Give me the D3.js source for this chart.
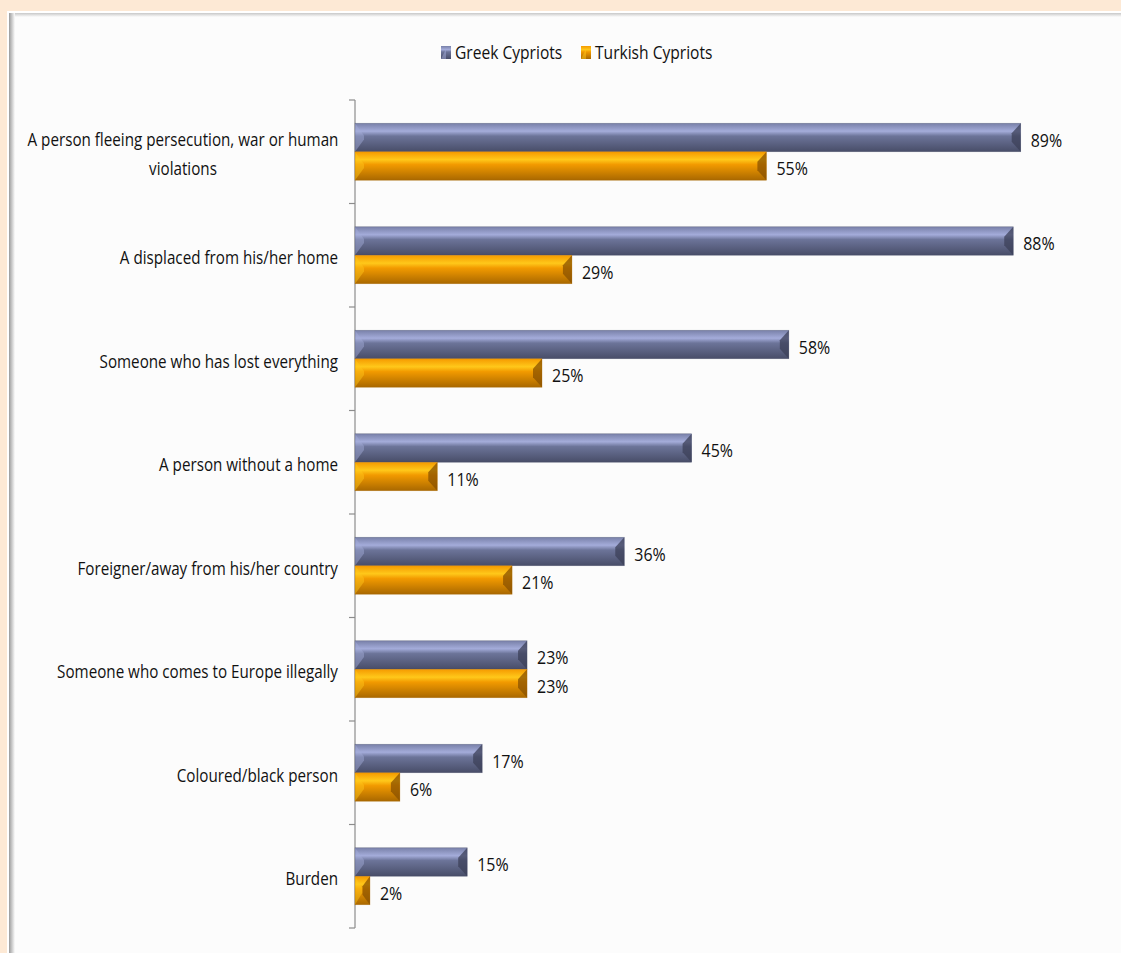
<!DOCTYPE html>
<html><head><meta charset="utf-8">
<script src="https://cdn.jsdelivr.net/npm/d3@7"></script>
<style>
html,body{margin:0;padding:0;background:#fde9d5;}
svg{display:block;}
text{font-family:"Open Sans",sans-serif;fill:#111;}
</style></head><body>
<svg id="c" width="1121" height="953"></svg>
<script>
const categories = [
  ["A person fleeing persecution, war or human","violations"],
  ["A displaced from his/her home"],
  ["Someone who has lost everything"],
  ["A person without a home"],
  ["Foreigner/away from his/her country"],
  ["Someone who comes to Europe illegally"],
  ["Coloured/black person"],
  ["Burden"]
];
const seriesNames = ["Greek Cypriots","Turkish Cypriots"];
const greek = [89,88,58,45,36,23,17,15];
const turkish = [55,29,25,11,21,23,6,2];

const svg = d3.select("#c");
const W = 1121, H = 953;
const defs = svg.append("defs");
const sh = defs.append("linearGradient").attr("id","shL").attr("x1",0).attr("x2",1).attr("y1",0).attr("y2",0);
sh.append("stop").attr("offset",0).attr("stop-color","#9a9a9a");
sh.append("stop").attr("offset",1).attr("stop-color","#fcfcfc");
const shT = defs.append("linearGradient").attr("id","shT").attr("x1",0).attr("x2",0).attr("y1",0).attr("y2",1);
shT.append("stop").attr("offset",0).attr("stop-color","#c8c8c8");
shT.append("stop").attr("offset",1).attr("stop-color","#fcfcfc");
svg.append("rect").attr("x",7).attr("y",11).attr("width",W).attr("height",H).attr("fill","#ffffff");
svg.append("rect").attr("x",9).attr("y",13).attr("width",W).attr("height",H).attr("fill","#fcfcfc");
svg.append("rect").attr("x",9).attr("y",13).attr("width",W).attr("height",4).attr("fill","url(#shT)");
svg.append("rect").attr("x",9).attr("y",13).attr("width",6).attr("height",H).attr("fill","url(#shL)");

const colors = {
  g:{top:"#7880a8",light:"#a4acda",mid:"#6c7499",bot:"#484d68",edge:"#3c4058"},
  t:{top:"#f59a00",light:"#ffc81a",mid:"#f29a00",bot:"#a96800",edge:"#8a5200"}
};
function grad(id,c){
  const g = defs.append("linearGradient").attr("id",id).attr("x1",0).attr("x2",0).attr("y1",0).attr("y2",1);
  [[0,c.top],[0.28,c.light],[0.45,c.mid],[1,c.bot]].forEach(s=>g.append("stop").attr("offset",s[0]).attr("stop-color",s[1]));
}
grad("gG",colors.g); grad("gT",colors.t);

function condense(t, k){
  const n = t.node();
  const L = n.getComputedTextLength();
  t.attr("textLength", L*k).attr("lengthAdjust","spacingAndGlyphs");
  return t;
}

const x = d3.scaleLinear().domain([0,100]).range([355,1103]);
const y = d3.scaleBand().domain(d3.range(categories.length)).range([100,928]).paddingInner(0).paddingOuter(0);
const barH = 28.5;

const yAxis = svg.append("g").attr("transform","translate(355,0)");
yAxis.append("line").attr("x1",0).attr("x2",0).attr("y1",100).attr("y2",928).attr("stroke","#8c8c8c").attr("stroke-width",1.2);
const tickYs = d3.range(categories.length+1).map(i=> i<categories.length ? y(i) : y(categories.length-1)+y.bandwidth());
yAxis.selectAll("line.t").data(tickYs).join("line").attr("class","t")
  .attr("x1",-6).attr("x2",0).attr("y1",d=>d).attr("y2",d=>d).attr("stroke","#8c8c8c").attr("stroke-width",1.2);

function drawBar(g, x0, x1, yy, h, c, gid){
  const w = x1-x0;
  g.append("rect").attr("x",x0).attr("y",yy).attr("width",w).attr("height",h).attr("fill",`url(#${gid})`);
  const b = Math.min(9, w/2);
  g.append("path").attr("d",`M${x0},${yy} L${x0+b},${yy+h/2-2} L${x0+b},${yy+h/2+2} L${x0},${yy+h} Z`)
    .attr("fill",c.light).attr("opacity",0.45);
  g.append("path").attr("d",`M${x1},${yy} L${x1-b},${yy+h*0.35} L${x1-b},${yy+h*0.65} L${x1},${yy+h} Z`)
    .attr("fill",c.edge).attr("opacity",0.75);
  g.append("rect").attr("x",x0).attr("y",yy).attr("width",w).attr("height",h)
    .attr("fill","none").attr("stroke",c.bot).attr("stroke-width",0.6).attr("opacity",0.5);
}

const K = 0.8;
const gb = svg.append("g");
categories.forEach((cat,i)=>{
  const mid = y(i)+y.bandwidth()/2;
  const yG = mid - barH, yT = mid;
  drawBar(gb, x(0), x(greek[i]), yG, barH, colors.g, "gG");
  drawBar(gb, x(0), x(turkish[i]), yT, barH, colors.t, "gT");
  condense(gb.append("text").attr("x",x(greek[i])+10).attr("y",yG+barH/2+9).attr("font-size",19).text(greek[i]+"%"),0.84);
  condense(gb.append("text").attr("x",x(turkish[i])+10).attr("y",yT+barH/2+9).attr("font-size",19).text(turkish[i]+"%"),0.84);
  const lh = 29;
  cat.forEach((ln,j)=>{
    const yy = mid + 9 + (j-(cat.length-1)/2)*lh;
    if(cat.length>1){
      condense(gb.append("text").attr("text-anchor","middle").attr("font-size",19).attr("x",183).attr("y",yy).text(ln),K);
    } else {
      condense(gb.append("text").attr("text-anchor","end").attr("font-size",19).attr("x",338).attr("y",yy).text(ln),K);
    }
  });
});

const leg = svg.append("g");
const legItems = [{n:seriesNames[0],c:colors.g,gid:"gG",x:441},{n:seriesNames[1],c:colors.t,gid:"gT",x:581}];
legItems.forEach(d=>{
  leg.append("rect").attr("x",d.x).attr("y",46).attr("width",10).attr("height",13).attr("fill",`url(#${d.gid})`);
  leg.append("path").attr("d",`M${d.x},${59} L${d.x+5},${49} L${d.x+5},${59} Z`).attr("fill",d.c.light).attr("opacity",0.5);
  condense(leg.append("text").attr("x",d.x+14).attr("y",59).attr("font-size",19).text(d.n),0.82);
});
</script>
</body></html>
